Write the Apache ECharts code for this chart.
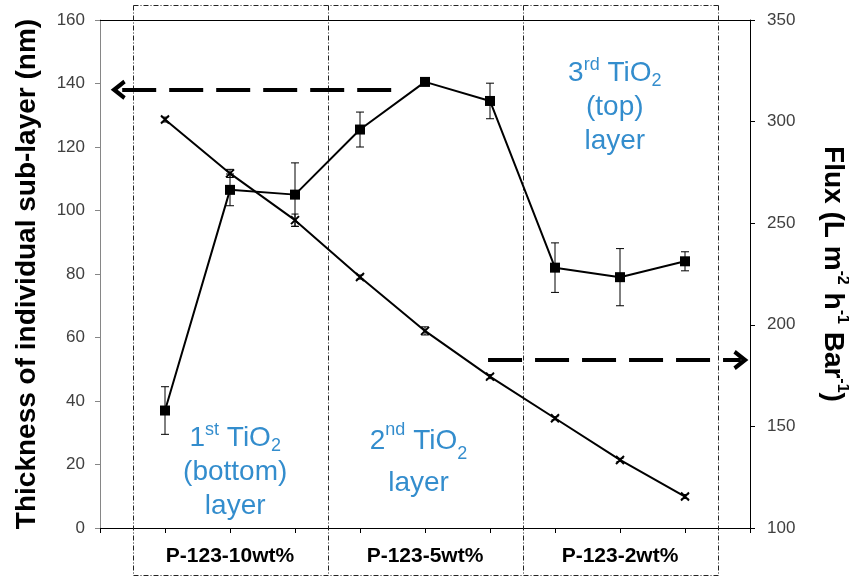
<!DOCTYPE html>
<html lang="en">
<head>
    <meta charset="UTF-8">
    <title>TiO2 sub-layer thickness and flux</title>
    <script src="https://cdn.jsdelivr.net/npm/echarts@6/dist/echarts.min.js"></script>
    <style>
        html, body { margin: 0; padding: 0; background: #fff; }
        #main { width: 849px; height: 577px; }
    </style>
</head>
<body>
<div id="main"></div>
<script type="text/javascript">
    // sample positions on the x axis (1..9) and the group label under each block
    var xPos = [1, 2, 3, 4, 5, 6, 7, 8, 9];
    var groupLabels = {2: 'P-123-10wt%', 5: 'P-123-5wt%', 8: 'P-123-2wt%'};

    // thickness of individual sub-layer (nm), left axis
    var thickness = [37, 106.5, 105, 125.5, 140.5, 134.5, 82, 79, 84];
    var thicknessErr = [7.5, 5, 10, 5.5, 1, 5.6, 7.8, 9, 3];

    // flux (L m-2 h-1 Bar-1), right axis
    var flux = [301, 274.5, 251.5, 223.5, 197, 174.5, 154, 133.5, 115.5];
    var fluxErr = [1.2, 2, 3, 1, 2, 1, 0.8, 0.8, 1];

    // block boundaries and layer notes
    var blockEdges = [0.5, 3.5, 6.5, 9.5];
    var notes = [
        {x: 2.08, y: 17.6, lh: 34, text: '1{sup|st} TiO{sub|2}\n(bottom)\nlayer'},
        {x: 4.9, y: 20.6, lh: 42, text: '2{sup|nd} TiO{sub|2}\nlayer'},
        {x: 7.92, y: 132.6, lh: 34, text: '3{sup|rd} TiO{sub|2}\n(top)\nlayer'}
    ];

    // arrows pointing to each axis
    var leftArrow = [[4.48, 138], [0.28, 138]];
    var rightArrow = [[5.97, 182.7], [9.86, 182.7]];

    var FONT = 'Liberation Sans';
    var BLUE = '#0070c0';
    var chevron = 'path://M0,11 L10,0 L20,11 L16.5,13 L10,6 L3.5,13 Z';

    function pairs(ys) {
        return ys.map(function (v, i) { return [xPos[i], v]; });
    }
    function errData(ys, es) {
        return ys.map(function (v, i) { return [xPos[i], v - es[i], v + es[i]]; });
    }
    function errRender(cap) {
        return function (params, api) {
            var lo = api.coord([api.value(0), api.value(1)]);
            var hi = api.coord([api.value(0), api.value(2)]);
            var st = {stroke: '#000', lineWidth: 1};
            return {
                type: 'group',
                children: [
                    {type: 'line', shape: {x1: lo[0], y1: lo[1], x2: hi[0], y2: hi[1]}, style: st},
                    {type: 'line', shape: {x1: lo[0] - cap, y1: lo[1], x2: lo[0] + cap, y2: lo[1]}, style: st},
                    {type: 'line', shape: {x1: hi[0] - cap, y1: hi[1], x2: hi[0] + cap, y2: hi[1]}, style: st}
                ]
            };
        };
    }
    function noteLabel(n) {
        return {
            show: true,
            position: 'inside',
            align: 'center',
            verticalAlign: 'middle',
            fontFamily: FONT,
            fontSize: 28,
            lineHeight: n.lh,
            color: BLUE,
            formatter: function () { return n.text; },
            rich: {
                sup: {fontFamily: FONT, fontSize: 18, lineHeight: 18, color: BLUE, verticalAlign: 'top'},
                sub: {fontFamily: FONT, fontSize: 18, lineHeight: 18, color: BLUE, verticalAlign: 'bottom'}
            }
        };
    }

    var myChart = echarts.init(document.getElementById('main'));
    var option = {
        animation: false,
        textStyle: {fontFamily: FONT},
        grid: {left: 100, right: 99, top: 20, bottom: 49, outerBoundsMode: 'none', containLabel: false},
        xAxis: [{
            type: 'value',
            position: 'bottom',
            min: 0,
            max: 10,
            interval: 1,
            axisLine: {show: true, onZero: false, lineStyle: {color: '#000', width: 1}},
            axisTick: {show: true, inside: false, length: 5, lineStyle: {color: '#000'}},
            splitLine: {show: false},
            axisLabel: {
                margin: 18,
                fontFamily: FONT,
                fontSize: 21,
                fontWeight: 'bold',
                color: '#000',
                showMinLabel: true,
                showMaxLabel: true,
                formatter: function (v) { return groupLabels[v] || ''; }
            }
        }, {
            type: 'value',
            position: 'top',
            min: 0,
            max: 10,
            axisLine: {show: true, onZero: false, lineStyle: {color: '#000', width: 1}},
            axisTick: {show: false},
            axisLabel: {show: false},
            splitLine: {show: false}
        }],
        yAxis: [{
            type: 'value',
            position: 'left',
            min: 0,
            max: 160,
            interval: 20,
            name: 'Thickness of individual sub-layer (nm)',
            nameLocation: 'middle',
            nameGap: 59,
            nameRotate: 90,
            nameTextStyle: {fontFamily: FONT, fontSize: 28, fontWeight: 'bold', color: '#000'},
            axisLine: {show: true, onZero: false, lineStyle: {color: '#868686', width: 1}},
            axisTick: {show: true, inside: false, length: 5, lineStyle: {color: '#868686'}},
            splitLine: {show: false},
            axisLabel: {margin: 15, fontFamily: FONT, fontSize: 17, color: '#404040'}
        }, {
            type: 'value',
            position: 'right',
            min: 100,
            max: 350,
            interval: 50,
            name: 'Flux (L m{sup|-2} h{sup|-1} Bar{sup|-1})',
            nameLocation: 'middle',
            nameGap: 66,
            nameRotate: -90,
            nameTextStyle: {
                fontFamily: FONT, fontSize: 28, fontWeight: 'bold', color: '#000', lineHeight: 34,
                rich: {
                    sup: {fontFamily: FONT, fontSize: 16, fontWeight: 'bold', color: '#000', verticalAlign: 'top', lineHeight: 16}
                }
            },
            axisLine: {show: true, onZero: false, lineStyle: {color: '#000', width: 1}},
            axisTick: {show: true, inside: false, length: 5, lineStyle: {color: '#000'}},
            splitLine: {show: false},
            axisLabel: {margin: 17, fontFamily: FONT, fontSize: 17, color: '#404040'}
        }],
        series: [{
            name: 'Thickness',
            type: 'line',
            data: pairs(thickness),
            yAxisIndex: 0,
            symbol: 'rect',
            symbolSize: 10,
            z: 5,
            lineStyle: {color: '#000', width: 2},
            itemStyle: {color: '#000'},
            markLine: {
                silent: true,
                symbol: ['none', chevron],
                symbolSize: [20, 15],
                label: {show: false},
                lineStyle: {color: '#000', width: 4, type: [34, 13]},
                data: [[{coord: leftArrow[0]}, {coord: leftArrow[1]}]]
            }
        }, {
            name: 'Flux',
            type: 'line',
            data: pairs(flux),
            yAxisIndex: 1,
            symbol: 'path://M0,0 L10,10 M10,0 L0,10',
            symbolSize: 8,
            z: 5,
            lineStyle: {color: '#000', width: 2},
            itemStyle: {color: 'none', borderColor: '#000', borderWidth: 2},
            markLine: {
                silent: true,
                symbol: ['none', chevron],
                symbolSize: [20, 15],
                label: {show: false},
                lineStyle: {color: '#000', width: 4, type: [34, 13]},
                data: [[{coord: rightArrow[0]}, {coord: rightArrow[1]}]]
            }
        }, {
            type: 'custom',
            yAxisIndex: 0,
            data: errData(thickness, thicknessErr),
            renderItem: errRender(4),
            z: 4
        }, {
            type: 'custom',
            yAxisIndex: 1,
            data: errData(flux, fluxErr),
            renderItem: errRender(3.5),
            z: 4
        }].concat(notes.map(function (n) {
            return {
                type: 'scatter',
                yAxisIndex: 0,
                symbolSize: 0,
                silent: true,
                data: [[n.x, n.y]],
                label: noteLabel(n)
            };
        }))
    };
    myChart.setOption(option);

    // dash-dot frame around the three blocks, reaching past the plot edges
    var topPx = Math.round(myChart.convertToPixel({yAxisIndex: 0}, 160)) - 14.5;
    var botPx = Math.round(myChart.convertToPixel({yAxisIndex: 0}, 0)) + 47.5;
    var dashDot = {stroke: '#222', lineWidth: 1, lineDash: [5, 2, 1, 2], fill: null};
    var frame = [];
    var xs = blockEdges.map(function (v) {
        return Math.round(myChart.convertToPixel({xAxisIndex: 0}, v)) + 0.5;
    });
    xs.forEach(function (x) {
        frame.push({type: 'line', shape: {x1: x, y1: topPx, x2: x, y2: botPx}, style: dashDot, z: 1, silent: true});
    });
    frame.push({type: 'line', shape: {x1: xs[0], y1: topPx, x2: xs[3], y2: topPx}, style: dashDot, z: 1, silent: true});
    frame.push({type: 'line', shape: {x1: xs[0], y1: botPx, x2: xs[3], y2: botPx}, style: dashDot, z: 1, silent: true});
    myChart.setOption({graphic: frame});
</script>
</body>
</html>
